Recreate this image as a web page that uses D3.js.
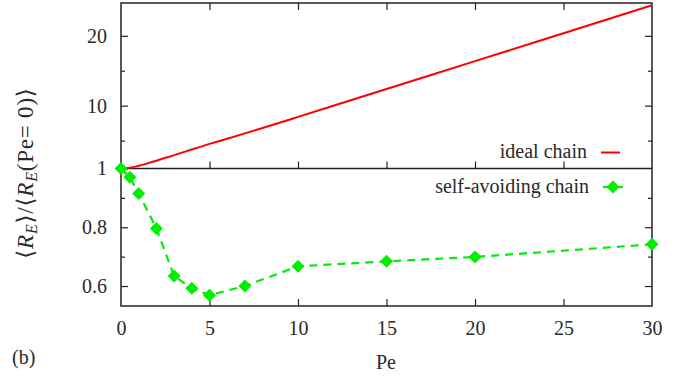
<!DOCTYPE html>
<html><head><meta charset="utf-8">
<script src="https://cdn.jsdelivr.net/npm/d3@7"></script>
<style>
html,body{margin:0;padding:0;background:#fff;}
svg text{font-family:'Liberation Serif','Times New Roman','DejaVu Serif','Noto Serif',serif;fill:#2a2a2a;}
</style></head>
<body>
<svg id="chart" width="697" height="379"></svg>
<script>
// ---- data ----
const idealPe  = [0, 0.5, 1, 1.5, 2, 3, 4, 5, 6, 7, 8, 10, 12, 15, 20, 25, 30];
const idealVal = [1, 1.11, 1.39, 1.73, 2.1, 2.92, 3.72, 4.52, 5.27, 6.03, 6.81, 8.39, 9.98, 12.38, 16.37, 20.37, 24.37];
const sawPe    = [0, 0.5, 1, 2, 3, 4, 5, 7, 10, 15, 20, 30];
const sawVal   = [1.0, 0.97, 0.915, 0.796, 0.634, 0.592, 0.569, 0.600, 0.667, 0.684, 0.699, 0.742];
const xTicks       = [0, 5, 10, 15, 20, 25, 30];
const topTicks     = [1, 10, 20];
const topMinor     = [5, 15];
const botTicks     = [0.6, 0.8];
const botMinor     = [0.7, 0.9];
const seriesNames  = ["ideal chain", "self-avoiding chain"];

// ---- layout ----
const L = 121, R = 652, T = 3, M = 168.5, B = 306;
const FONT = "'Liberation Serif','Times New Roman','DejaVu Serif','Noto Serif',serif";
const svg = d3.select("#chart");
const x = d3.scaleLinear([0, 30], [L, R]);
const yTop = d3.scaleLinear([1, 24.7], [M, T]);
const yBot = d3.scaleLinear([0.532, 1], [B, M]);
const FS = 20;
const ink = "#222";

function styleAxis(g) {
  g.attr("font-family", null).attr("font-size", null);
  g.select(".domain").remove();
  g.selectAll(".tick line").attr("stroke", ink).attr("stroke-width", 1.2);
  g.selectAll(".tick text").attr("font-size", FS).attr("fill", "#2a2a2a")
    .style("font-family", FONT);
}

// Y axes left (ticks inward)
svg.append("g").attr("transform", `translate(${L},0)`)
  .call(d3.axisLeft(yTop).tickValues(topTicks).tickSize(-7).tickPadding(14).tickFormat(d3.format("d")))
  .call(styleAxis);
svg.append("g").attr("transform", `translate(${L},0)`)
  .call(d3.axisLeft(yTop).tickValues(topMinor).tickSize(-4).tickFormat(""))
  .call(styleAxis);
svg.append("g").attr("transform", `translate(${L},0)`)
  .call(d3.axisLeft(yBot).tickValues(botTicks).tickSize(-7).tickPadding(14).tickFormat(d3.format(".1f")))
  .call(styleAxis);
svg.append("g").attr("transform", `translate(${L},0)`)
  .call(d3.axisLeft(yBot).tickValues(botMinor).tickSize(-4).tickFormat(""))
  .call(styleAxis);
// right mirrored
svg.append("g").attr("transform", `translate(${R},0)`)
  .call(d3.axisRight(yTop).tickValues(topTicks.filter(d => d > 1)).tickSize(-7).tickFormat(""))
  .call(styleAxis);
svg.append("g").attr("transform", `translate(${R},0)`)
  .call(d3.axisRight(yTop).tickValues(topMinor).tickSize(-4).tickFormat(""))
  .call(styleAxis);
svg.append("g").attr("transform", `translate(${R},0)`)
  .call(d3.axisRight(yBot).tickValues(botTicks).tickSize(-7).tickFormat(""))
  .call(styleAxis);
svg.append("g").attr("transform", `translate(${R},0)`)
  .call(d3.axisRight(yBot).tickValues(botMinor).tickSize(-4).tickFormat(""))
  .call(styleAxis);

// X axes
const inner = xTicks.filter(d => d > 0 && d < 30);
svg.append("g").attr("transform", `translate(0,${B})`)
  .call(d3.axisBottom(x).tickValues(xTicks).tickSize(0).tickPadding(15).tickFormat(d3.format("d")))
  .call(styleAxis);
svg.append("g").attr("transform", `translate(0,${B})`)
  .call(d3.axisTop(x).tickValues(inner).tickSize(7).tickFormat(""))
  .call(styleAxis);
svg.append("g").attr("transform", `translate(0,${M})`)
  .call(d3.axisTop(x).tickValues(inner).tickSize(7).tickFormat(""))
  .call(styleAxis);
svg.append("g").attr("transform", `translate(0,${T})`)
  .call(d3.axisBottom(x).tickValues(inner).tickSize(7).tickFormat(""))
  .call(styleAxis);

// frames
svg.append("rect").attr("x", L).attr("y", T).attr("width", R - L).attr("height", B - T)
  .attr("fill", "none").attr("stroke", ink).attr("stroke-width", 1.5);
svg.append("line").attr("x1", L).attr("x2", R).attr("y1", M).attr("y2", M)
  .attr("stroke", ink).attr("stroke-width", 1.5);

// ideal chain
const idealData = idealPe.map((p, i) => [p, idealVal[i]]);
svg.append("path").datum(idealData)
  .attr("fill", "none").attr("stroke", "#ff0000").attr("stroke-width", 2)
  .attr("d", d3.line().x(d => x(d[0])).y(d => yTop(d[1])).curve(d3.curveMonotoneX));

// self-avoiding chain
const sawData = sawPe.map((p, i) => [p, sawVal[i]]);
const green = "#00ee00";
svg.append("path").datum(sawData)
  .attr("fill", "none").attr("stroke", green).attr("stroke-width", 2.2)
  .attr("stroke-dasharray", "8,6")
  .attr("d", d3.line().x(d => x(d[0])).y(d => yBot(d[1])));
const diamond = s => `M0,${-s}L${s},0L0,${s}L${-s},0Z`;
svg.append("g").selectAll("path").data(sawData).join("path")
  .attr("transform", d => `translate(${x(d[0])},${yBot(d[1])})`)
  .attr("d", diamond(6.5)).attr("fill", green);

// legend
const lg = svg.append("g");
lg.append("text").attr("x", 587).attr("y", 158).attr("text-anchor", "end")
  .attr("font-size", FS).text(seriesNames[0]);
lg.append("line").attr("x1", 601).attr("x2", 620).attr("y1", 152.5).attr("y2", 152.5)
  .attr("stroke", "#ff0000").attr("stroke-width", 2);
lg.append("text").attr("x", 589).attr("y", 193).attr("text-anchor", "end")
  .attr("font-size", FS).text(seriesNames[1]);
lg.append("line").attr("x1", 603).attr("x2", 623).attr("y1", 187).attr("y2", 187)
  .attr("stroke", green).attr("stroke-width", 2.2);
lg.append("path").attr("transform", "translate(613,187)").attr("d", diamond(6.5)).attr("fill", green);

// axis labels
svg.append("text").attr("x", 386).attr("y", 369).attr("text-anchor", "middle")
  .attr("font-size", FS).text("Pe");
svg.append("text").attr("x", 12).attr("y", 364).attr("font-size", FS).text("(b)");

const YFS = 23;
const yl = svg.append("text").attr("transform", "translate(33,173) rotate(-90)")
  .attr("text-anchor", "middle").attr("font-size", YFS).attr("letter-spacing", 0.8);
yl.append("tspan").text("\u27E8");
yl.append("tspan").attr("font-style", "italic").text("R");
yl.append("tspan").attr("font-style", "italic").attr("font-size", 16).attr("dy", 4).text("E");
yl.append("tspan").attr("dy", -4).text("\u27E9/\u27E8");
yl.append("tspan").attr("font-style", "italic").text("R");
yl.append("tspan").attr("font-style", "italic").attr("font-size", 16).attr("dy", 4).text("E");
yl.append("tspan").attr("dy", -4).text("(Pe= 0)\u27E9");
</script>
</body></html>
